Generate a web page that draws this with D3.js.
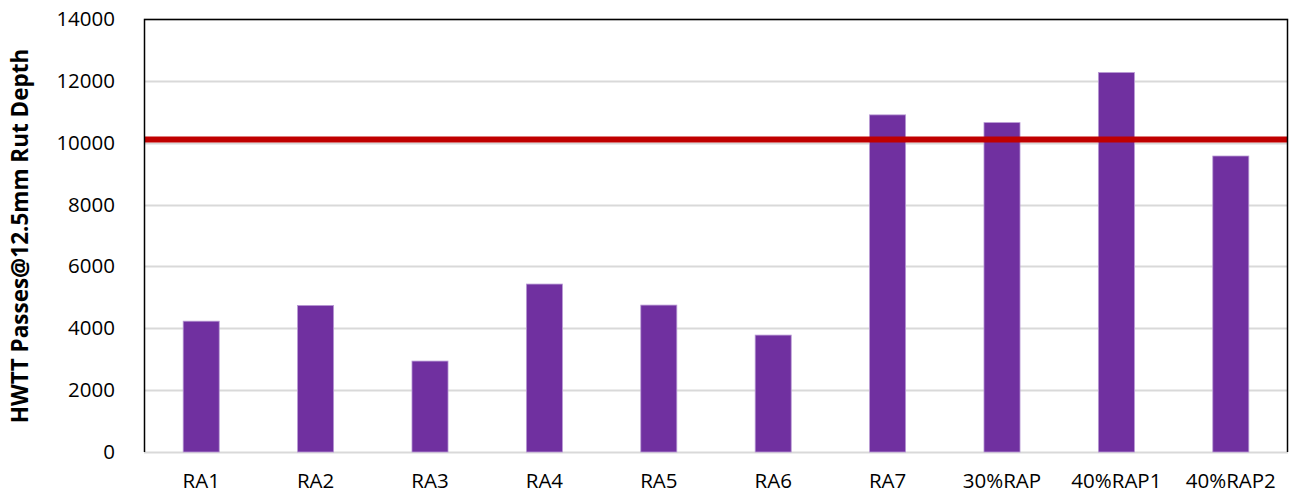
<!DOCTYPE html>
<html>
<head>
<meta charset="utf-8">
<script src="https://cdn.jsdelivr.net/npm/d3@7"></script>
<style>
  html, body { margin: 0; padding: 0; background: #ffffff; }
  svg { display: block; font-family: "Open Sans", "Noto Sans", sans-serif; }
</style>
</head>
<body>
<svg id="chart" width="1289" height="497"></svg>
<script>
// Mixtures and their HWTT passes to 12.5 mm rut depth
const categories = ["RA1", "RA2", "RA3", "RA4", "RA5", "RA6", "RA7", "30%RAP", "40%RAP1", "40%RAP2"];
const passes = [4230, 4740, 2940, 5430, 4750, 3780, 10900, 10650, 12270, 9570];
// Reference requirement drawn as a horizontal line
const thresholdValue = [10100];
const yTicks = [0, 2000, 4000, 6000, 8000, 10000, 12000, 14000];

const svg = d3.select("#chart");
const margin = { top: 19, right: 1, bottom: 45, left: 144 };
const width = 1289 - margin.left - margin.right;
const height = 497 - margin.top - margin.bottom;

const g = svg.append("g").attr("transform", `translate(${margin.left},${margin.top})`);

const x = d3.scaleBand()
  .domain(categories)
  .range([0, width])
  .paddingInner(0.685)
  .paddingOuter(0.3425);

const y = d3.scaleLinear()
  .domain([0, 14000])
  .range([height, 0]);

// Horizontal gridlines
g.append("g")
  .selectAll("line")
  .data(yTicks)
  .join("line")
  .attr("x1", 0)
  .attr("x2", width)
  .attr("y1", d => Math.round(y(d)) + 0.5)
  .attr("y2", d => Math.round(y(d)) + 0.5)
  .attr("stroke", "#d9d9d9")
  .attr("stroke-width", 2);

// Bars
g.append("g")
  .selectAll("rect")
  .data(passes)
  .join("rect")
  .attr("x", (d, i) => x(categories[i]))
  .attr("y", d => y(d))
  .attr("width", x.bandwidth())
  .attr("height", d => y(0) - y(d))
  .attr("fill", "#7030a0")
  .attr("stroke", "#b89ad4")
  .attr("stroke-width", 0.8);

// Threshold line
g.append("g")
  .selectAll("line")
  .data(thresholdValue)
  .join("line")
  .attr("x1", 0)
  .attr("x2", width)
  .attr("y1", d => y(d))
  .attr("y2", d => y(d))
  .attr("stroke", "#c00000")
  .attr("stroke-width", 6);

// Plot frame: left, top and right edges in black
g.append("path")
  .attr("d", `M0.5,${height} V0.5 H${width - 0.5} V${height}`)
  .attr("fill", "none")
  .attr("stroke", "#000000")
  .attr("stroke-width", 1.5);

// Y axis
const yAxis = d3.axisLeft(y)
  .tickValues(yTicks)
  .tickSize(0)
  .tickPadding(29)
  .tickFormat(d3.format("d"));
const yG = g.append("g").call(yAxis);
yG.select(".domain").remove();
yG.selectAll("text")
  .attr("font-size", 20.5)
  .attr("fill", "#000000")
  .attr("font-family", "'Open Sans', 'Noto Sans', sans-serif");

// X axis
const xAxis = d3.axisBottom(x).tickSize(0).tickPadding(21);
const xG = g.append("g").attr("transform", `translate(0,${height})`).call(xAxis);
xG.select(".domain").remove();
xG.selectAll("text")
  .attr("font-size", 20.5)
  .attr("fill", "#000000")
  .attr("font-family", "'Open Sans', 'Noto Sans', sans-serif");

// Y axis title
svg.append("text")
  .attr("transform", `translate(28,236) rotate(-90)`)
  .attr("text-anchor", "middle")
  .attr("font-size", 22.5)
  .attr("font-weight", "bold")
  .attr("fill", "#000000")
  .attr("font-family", "'Open Sans', 'Noto Sans', sans-serif")
  .text("HWTT Passes@12.5mm Rut Depth");
</script>
</body>
</html>
